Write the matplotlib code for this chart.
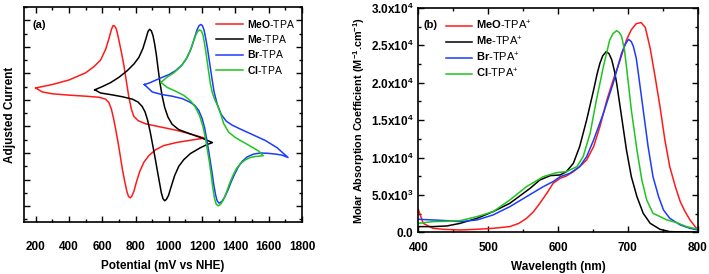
import matplotlib
matplotlib.use("Agg")
import matplotlib.pyplot as plt
from matplotlib.ticker import MultipleLocator, FuncFormatter

# ---- (a) cyclic voltammetry, potential in mV vs NHE, current in arbitrary units
meo_cv_x = [200, 300, 400, 500, 550, 590, 620, 640, 655, 665, 675, 685, 695, 705, 718, 730,
            745, 760, 775, 790, 815, 860, 950, 1050, 1150, 1216,
            1150, 1050, 970, 920, 880, 850, 825, 805, 790, 778, 768, 758, 748, 736, 722, 708,
            695, 682, 668, 655, 640, 620, 580, 500, 400, 300, 240, 200]
meo_cv_y = [5.45, 5.58, 5.75, 6.02, 6.25, 6.50, 6.90, 7.30, 7.65, 7.80, 7.78, 7.66, 7.40, 7.10,
            6.70, 6.30, 5.70, 5.10, 4.65, 4.38, 4.22, 4.10, 3.98, 3.85, 3.68, 3.56,
            3.50, 3.40, 3.28, 3.12, 2.90, 2.65, 2.30, 1.90, 1.55, 1.38, 1.31, 1.36, 1.55, 1.90,
            2.35, 2.90, 3.40, 3.85, 4.30, 4.65, 4.90, 5.03, 5.10, 5.14, 5.18, 5.23, 5.30, 5.45]

me_cv_x = [555, 600, 650, 700, 750, 790, 820, 845, 862, 875, 885, 895, 905, 915, 925, 935, 947,
           960, 975, 995, 1020, 1060, 1120, 1200, 1262,
           1230, 1190, 1130, 1090, 1060, 1035, 1015, 998, 985, 975, 965, 955, 945, 932, 918,
           903, 888, 872, 857, 840, 815, 780, 720, 650, 590, 555]
me_cv_y = [5.38, 5.50, 5.65, 5.85, 6.10, 6.35, 6.60, 6.95, 7.30, 7.58, 7.66, 7.60, 7.42, 7.10,
           6.70, 6.20, 5.63, 5.15, 4.72, 4.35, 4.08, 3.88, 3.74, 3.56, 3.39,
           3.32, 3.20, 2.98, 2.75, 2.50, 2.15, 1.75, 1.40, 1.25, 1.20, 1.28, 1.50, 1.85, 2.30,
           2.80, 3.30, 3.80, 4.25, 4.55, 4.75, 4.92, 5.03, 5.12, 5.20, 5.26, 5.38]

br_cv_x = [853, 880, 920, 960, 1000, 1040, 1080, 1110, 1135, 1155, 1170, 1182, 1192, 1202, 1212,
           1222, 1232, 1245, 1258, 1272, 1290, 1315, 1345, 1380, 1430, 1500, 1580, 1650, 1716,
           1680, 1640, 1590, 1550, 1510, 1470, 1440, 1415, 1395, 1375, 1355, 1335, 1318, 1302,
           1290, 1280, 1270, 1260, 1250, 1240, 1228, 1215, 1200, 1180, 1155, 1125, 1080, 1020,
           960, 900, 853]
br_cv_y = [5.58, 5.63, 5.74, 5.85, 5.95, 6.10, 6.32, 6.60, 6.95, 7.35, 7.65, 7.80, 7.84, 7.80,
           7.62, 7.30, 6.95, 6.40, 5.85, 5.30, 4.85, 4.45, 4.20, 4.05, 3.90, 3.70, 3.47, 3.20,
           2.83, 2.92, 2.96, 2.99, 3.00, 2.96, 2.85, 2.68, 2.45, 2.20, 1.92, 1.60, 1.33, 1.17,
           1.11, 1.20, 1.45, 1.80, 2.25, 2.65, 3.05, 3.50, 3.95, 4.30, 4.60, 4.80, 4.92, 5.05,
           5.14, 5.20, 5.30, 5.58]

cl_cv_x = [953, 990, 1030, 1070, 1100, 1125, 1145, 1162, 1175, 1185, 1195, 1205, 1215, 1225,
           1237, 1250, 1262, 1278, 1292, 1310, 1330, 1360, 1400, 1450, 1500, 1540, 1567,
           1545, 1520, 1490, 1462, 1430, 1405, 1385, 1365, 1345, 1325, 1310, 1296, 1284, 1274,
           1264, 1254, 1244, 1232, 1220, 1205, 1185, 1160, 1130, 1090, 1040, 990, 953]
cl_cv_y = [5.66, 5.86, 6.02, 6.25, 6.50, 6.80, 7.15, 7.45, 7.60, 7.64, 7.60, 7.45, 7.10, 6.70,
           6.15, 5.60, 5.25, 4.98, 4.80, 4.50, 4.10, 3.78, 3.58, 3.40, 3.22, 3.07, 2.90,
           2.88, 2.87, 2.83, 2.75, 2.60, 2.40, 2.15, 1.85, 1.50, 1.20, 1.06, 1.01, 1.08, 1.30,
           1.70, 2.20, 2.65, 3.10, 3.55, 4.00, 4.40, 4.72, 4.97, 5.17, 5.33, 5.47, 5.66]

# ---- (b) absorption spectra of the radical cations
meo_wl = [400, 407, 421, 436, 460, 484, 507, 531, 544, 555, 565, 574, 584, 593, 603, 612, 622,
          631, 641, 651, 660, 670, 679, 689, 698, 705, 712, 719, 725, 732, 739, 746, 753, 760,
          768, 775, 782, 789, 800]
meo_eps = [3070, 1200, 535, 400, 310, 400, 535, 760, 1200, 1870, 2760, 3880, 5220, 6550, 7220,
           7530, 8110, 8780, 9670, 11460, 14130, 17700, 20370, 23050, 25720, 27100, 27900, 28050,
           27400, 24600, 20820, 16810, 12350, 8780, 6110, 4100, 2760, 1650, 310]

me_wl = [400, 421, 441, 460, 484, 507, 531, 544, 560, 574, 589, 603, 612, 622, 631, 641, 651,
         656, 660, 664, 669, 673, 677, 681, 684, 691, 698, 705, 713, 722, 732, 746, 760, 800]
me_eps = [760, 760, 850, 1200, 1870, 2760, 3880, 4770, 5880, 7000, 7580, 7670, 8110, 9230,
          11460, 15020, 19040, 21200, 22600, 23600, 24160, 23900, 23050, 21500, 19930, 15470,
          11010, 7440, 4770, 2540, 1200, 400, 90, 0]

br_wl = [400, 421, 441, 460, 484, 507, 531, 555, 579, 593, 603, 617, 631, 641, 651, 665, 679,
         691, 696, 701, 705, 708, 712, 715, 722, 729, 736, 744, 751, 760, 775, 789, 800]
br_eps = [1740, 1650, 1560, 1430, 1650, 2320, 3430, 4770, 6110, 6780, 7440, 7890, 8780, 10120,
          12350, 15920, 19930, 23940, 25100, 25810, 25500, 24830, 23300, 21270, 16360, 11460,
          7440, 4770, 2990, 1870, 980, 535, 310]

cl_wl = [400, 421, 441, 460, 484, 507, 531, 555, 579, 598, 612, 627, 636, 646, 655, 665, 674,
         679, 684, 688, 691, 695, 698, 705, 713, 720, 727, 736, 746, 756, 770, 784, 800]
cl_eps = [1200, 1430, 1470, 1560, 2100, 2760, 4320, 6110, 7440, 7980, 8110, 8780, 10120, 13240,
          17700, 22160, 25720, 26600, 26970, 26700, 26190, 24500, 22160, 16360, 11010, 7000,
          4320, 2540, 2100, 1650, 1290, 760, 400]

names = ["MeO", "Me", "Br", "Cl"]
colors = ["#ff1a1a", "black", "#1a3cff", "#1fc41f"]

plt.rcParams["font.family"] = "Liberation Sans"
plt.rcParams["mathtext.fontset"] = "custom"
plt.rcParams["mathtext.rm"] = "Liberation Sans"
plt.rcParams["mathtext.bf"] = "Liberation Sans:bold"
plt.rcParams["font.size"] = 8.5

fig = plt.figure(figsize=(7.09, 2.74), dpi=100)
ax1 = fig.add_axes([24 / 709, 1 - 222 / 274, 278 / 709, 215 / 274])
ax2 = fig.add_axes([418.3 / 709, 1 - 232.3 / 274, 279.4 / 709, 224.3 / 274])


def style(ax):
    for s in ax.spines.values():
        s.set_linewidth(1.2)
    ax.tick_params(which="both", direction="in", top=True, right=True, width=1.0)
    ax.tick_params(which="major", length=4)
    ax.tick_params(which="minor", length=2)
    for lab in ax.get_xticklabels() + ax.get_yticklabels():
        lab.set_fontweight("bold")


# panel (a)
for xs, ys, nm, c in zip([meo_cv_x, me_cv_x, br_cv_x, cl_cv_x],
                         [meo_cv_y, me_cv_y, br_cv_y, cl_cv_y], names, colors):
    ax1.plot(xs, ys, color=c, lw=1.1, label=r"$\mathbf{%s}$-TPA" % nm)
ax1.set_xlim(130, 1800)
ax1.set_ylim(0.4, 8.5)
ax1.xaxis.set_major_locator(MultipleLocator(200))
ax1.xaxis.set_minor_locator(MultipleLocator(100))
ax1.yaxis.set_major_locator(MultipleLocator(1))
ax1.yaxis.set_minor_locator(MultipleLocator(0.5))
ax1.set_yticklabels([])
style(ax1)
ax1.tick_params(axis="x", which="major", pad=14)
ax1.set_xlabel("Potential (mV vs NHE)", fontweight="bold", fontsize=8.5, labelpad=5)
ax1.set_ylabel("Adjusted Current", fontweight="bold", fontsize=8.5)
ax1.yaxis.set_label_coords(-0.028, 0.5)
ax1.text(0.03, 0.9, "(a)", transform=ax1.transAxes, fontweight="bold", fontsize=8)
ax1.legend(loc="upper right", bbox_to_anchor=(1.0, 0.985), frameon=False, fontsize=7.5,
           handlelength=2.6, handletextpad=0.3, labelspacing=0.33, borderaxespad=0.3)

# panel (b)
for xs, ys, nm, c in zip([meo_wl, me_wl, br_wl, cl_wl],
                         [meo_eps, me_eps, br_eps, cl_eps], names, colors):
    ax2.plot(xs, ys, color=c, lw=1.1, label=r"$\mathbf{%s}$-TPA$^{+}$" % nm)
ax2.set_xlim(400, 800)
ax2.set_ylim(0, 30000)
ax2.xaxis.set_major_locator(MultipleLocator(100))
ax2.xaxis.set_minor_locator(MultipleLocator(50))
ax2.yaxis.set_major_locator(MultipleLocator(5000))
ax2.yaxis.set_minor_locator(MultipleLocator(2500))


def sci(v, pos):
    if v == 0:
        return r"$\mathbf{0.0}$"
    e = 3 if v < 10000 else 4
    return r"$\mathbf{%.1fx10^{%d}}$" % (v / 10 ** e, e)


ax2.yaxis.set_major_formatter(FuncFormatter(sci))
style(ax2)
ax2.tick_params(axis="x", which="major", pad=7)
ax2.set_xlabel("Wavelength (nm)", fontweight="bold", fontsize=8.5, labelpad=5)
ax2.set_ylabel(r"Molar Absorption Coefficient (M$^{\mathbf{-1}}$.cm$^{\mathbf{-1}}$)",
               fontweight="bold", fontsize=7.8, labelpad=3)
ax2.text(0.018, 0.91, "(b)", transform=ax2.transAxes, fontweight="bold", fontsize=8)
ax2.legend(loc="upper left", bbox_to_anchor=(0.07, 0.985), frameon=False, fontsize=8,
           handlelength=2.4, handletextpad=0.3, labelspacing=0.25, borderaxespad=0.3)

fig.savefig("out.png", dpi=100)
